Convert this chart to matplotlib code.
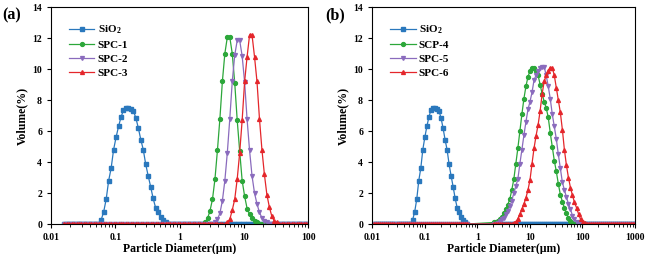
import numpy as np
import matplotlib
matplotlib.use('Agg')
import matplotlib.pyplot as plt

plt.rcParams['font.family'] = ['Liberation Serif', 'DejaVu Serif']
plt.rcParams['font.weight'] = 'bold'
plt.rcParams['mathtext.fontset'] = 'custom'
plt.rcParams['mathtext.rm'] = 'Liberation Serif:bold'
plt.rcParams['mathtext.default'] = 'rm'

# size classes of the analyser (26 classes per decade)
ratio = 10 ** (1 / 26)
grid_a = 0.016 * ratio ** np.arange(100)
grid_b = 0.011 * ratio ** np.arange(131)
gap_b = (0.66, 1.9)   # no points recorded here in (b)

labels_a = ['SiO$_2$', 'SPC-1', 'SPC-2', 'SPC-3']
labels_b = ['SiO$_2$', 'SCP-4', 'SPC-5', 'SPC-6']

sio2 = [0.28, 0.8, 1.6, 2.8, 3.6, 4.8, 5.6, 6.3, 6.9, 7.35, 7.5, 7.5, 7.45, 7.3,
        6.85, 6.2, 5.45, 4.8, 3.85, 3.1, 2.4, 1.65, 1.05, 0.75, 0.45, 0.25, 0.1]
spc1 = [0.1, 0.36, 0.86, 1.6, 2.9, 4.76, 6.8, 9.2, 11.0, 12.06, 12.06, 11.0, 9.1,
        6.7, 4.7, 2.8, 1.8, 1.0, 0.62, 0.36, 0.2, 0.1]
spc2 = [0.1, 0.3, 0.7, 1.5, 2.8, 4.6, 6.8, 9.2, 10.9, 11.85, 11.85, 10.85, 9.15,
        6.75, 4.75, 3.1, 2.0, 1.3, 0.75, 0.4, 0.2, 0.1]
spc3 = [0.1, 0.3, 0.9, 1.6, 2.9, 4.6, 6.7, 9.2, 10.8, 12.2, 12.2, 10.8, 9.2, 6.8,
        4.8, 3.2, 1.9, 1.1, 0.5, 0.2, 0.1]
scp4 = [0.1, 0.15, 0.22, 0.32, 0.48, 0.7, 0.95, 1.25, 1.6, 2.2, 2.9, 3.9, 4.9, 6.0,
        7.1, 8.1, 8.9, 9.5, 9.9, 10.05, 10.05, 9.9, 9.6, 9.0, 8.4, 7.9, 7.5, 6.9,
        5.9, 5.0, 4.1, 3.4, 2.6, 1.9, 1.45, 1.05, 0.7, 0.4, 0.2, 0.08]
spc5 = [0.05, 0.2, 0.3, 0.42, 0.62, 0.85, 1.15, 1.5, 2.0, 2.45, 2.9, 3.9, 4.8, 5.75,
        6.6, 7.4, 7.9, 8.5, 9.3, 9.6, 9.85, 10.05, 10.15, 10.15, 9.6, 8.9, 8.1, 7.1,
        6.3, 5.5, 4.5, 3.6, 2.7, 2.2, 1.75, 1.3, 0.95, 0.55, 0.3, 0.15, 0.05]
spc6 = [0.05, 0.12, 0.35, 0.62, 0.95, 1.3, 1.7, 2.2, 2.85, 3.9, 4.9, 5.7, 6.4, 7.3,
        8.4, 9.2, 9.6, 9.9, 10.1, 10.1, 9.6, 8.8, 8.0, 7.2, 6.1, 4.8, 3.8, 3.0, 2.35,
        1.85, 1.4, 1.05, 0.65, 0.3, 0.15, 0.05]

# first size class (index into grid) of each recorded peak
start_a = [15, 57, 61, 66]
start_b = [19, 59, 61, 69]

colors = ['#2a78bd', '#2ca73a', '#8a6bbd', '#e4262b']
markers = ['s', 'o', 'v', '^']


def place(grid, start, vals):
    y = np.zeros(len(grid))
    y[start:start + len(vals)] = vals
    return y


def draw(ax, grid, series, starts, labels, xmax, gap=None):
    for vals, st, lab, c, m in zip(series, starts, labels, colors, markers):
        y = place(grid, st, vals)
        x = grid
        if gap is not None:
            keep = ~((grid > gap[0]) & (grid < gap[1])) | (y > 0)
            x, y = x[keep], y[keep]
        ax.plot(x, y, color=c, marker=m, ms=2.8, lw=0.9, mec=c, label=lab)
    ax.set_xscale('log')
    ax.set_xlim(0.01, xmax)
    ax.set_ylim(0, 14)
    ax.set_yticks(range(0, 15, 2))
    ax.tick_params(labelsize=7, length=3, width=0.8, direction='out')
    ax.tick_params(which='minor', length=1.8, width=0.6)
    ax.xaxis.set_major_formatter(matplotlib.ticker.FuncFormatter(lambda v, p: '%g' % v))
    for s in ax.spines.values():
        s.set_linewidth(0.8)
    ax.set_xlabel('Particle Diameter(μm)', fontsize=8.5, fontweight='bold', labelpad=1)
    ax.set_ylabel('Volume(%)', fontsize=8.5, fontweight='bold', labelpad=3)
    ax.legend(loc='upper left', bbox_to_anchor=(0.03, 0.97), frameon=False,
              fontsize=8, handlelength=2.3, labelspacing=0.38, handletextpad=0.3)


fig = plt.figure(figsize=(6.46, 2.54), dpi=100)
ax1 = fig.add_axes([0.079, 0.118, 0.398, 0.854])
ax2 = fig.add_axes([0.576, 0.118, 0.407, 0.854])

draw(ax1, grid_a, [sio2, spc1, spc2, spc3], start_a, labels_a, 100)
draw(ax2, grid_b, [sio2, scp4, spc5, spc6], start_b, labels_b, 1000, gap_b)

fig.text(0.003, 0.97, '(a)', fontsize=11.5, fontweight='bold', va='top')
fig.text(0.503, 0.97, '(b)', fontsize=11.5, fontweight='bold', va='top')

fig.savefig('out.png', dpi=100)
